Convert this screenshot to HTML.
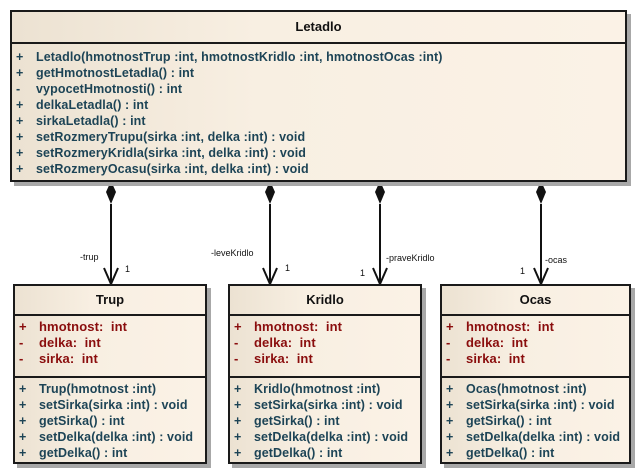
<!DOCTYPE html>
<html><head><meta charset="utf-8"><style>
body{margin:0;width:641px;height:474px;background:#fff;position:relative;overflow:hidden;font-family:"Liberation Sans",sans-serif;}
.box{position:absolute;border:2px solid #1a1a1a;box-sizing:border-box;background:linear-gradient(90deg,#ece2d2,#f8efe2 40%,#fbf2e6);box-shadow:4px 4px 0 #a8a8a8;}
.hdr{position:absolute;left:0;right:0;top:0;border-bottom:2px solid #1a1a1a;text-align:center;font-weight:bold;font-size:13px;color:#111;box-sizing:border-box;}
.sec{position:absolute;left:0;right:0;box-sizing:border-box;}
.row{height:16px;line-height:16px;font-size:12.5px;font-weight:bold;color:#1d4456;white-space:nowrap;position:relative;letter-spacing:0.1px;}
.row .v{position:absolute;left:4px;}
.row .t{position:absolute;left:24px;}
.attr .row{color:#8a0d0d;font-weight:bold;font-size:13px;}
.lbl{position:absolute;font-size:9px;color:#111;}
</style></head><body>
<svg width="641" height="474" style="position:absolute;left:0;top:0">
<g stroke="#111" stroke-width="2" fill="none">
<line x1="111" y1="204" x2="111" y2="284"/><polyline points="104,268 111,284 118,268"/>
<line x1="270" y1="204" x2="270" y2="284"/><polyline points="263,268 270,284 277,268"/>
<line x1="380" y1="204" x2="380" y2="284"/><polyline points="373,268 380,284 387,268"/>
<line x1="541" y1="204" x2="541" y2="284"/><polyline points="534,268 541,284 548,268"/>
</g>
<g fill="#111">
<polygon points="111,181 116,192 111,204 106,192"/>
<polygon points="270,181 275,192 270,204 265,192"/>
<polygon points="380,181 385,192 380,204 375,192"/>
<polygon points="541,181 546,192 541,204 536,192"/>
</g>
</svg>
<div class="lbl" style="left:80px;top:252px">-trup</div>
<div class="lbl" style="left:125px;top:264px">1</div>
<div class="lbl" style="left:211px;top:248px">-leveKridlo</div>
<div class="lbl" style="left:285px;top:263px">1</div>
<div class="lbl" style="left:360px;top:268px">1</div>
<div class="lbl" style="left:386px;top:253px">-praveKridlo</div>
<div class="lbl" style="left:520px;top:266px">1</div>
<div class="lbl" style="left:545px;top:255px">-ocas</div>

<div class="box" style="left:10px;top:10px;width:617px;height:172px">
<div class="hdr" style="height:32px;line-height:30px">Letadlo</div>
<div class="sec" style="top:37px">
<div class="row"><span class="v">+</span><span class="t">Letadlo(hmotnostTrup :int, hmotnostKridlo :int, hmotnostOcas :int)</span></div>
<div class="row"><span class="v">+</span><span class="t">getHmotnostLetadla() : int</span></div>
<div class="row"><span class="v">-</span><span class="t">vypocetHmotnosti() : int</span></div>
<div class="row"><span class="v">+</span><span class="t">delkaLetadla() : int</span></div>
<div class="row"><span class="v">+</span><span class="t">sirkaLetadla() : int</span></div>
<div class="row"><span class="v">+</span><span class="t">setRozmeryTrupu(sirka :int, delka :int) : void</span></div>
<div class="row"><span class="v">+</span><span class="t">setRozmeryKridla(sirka :int, delka :int) : void</span></div>
<div class="row"><span class="v">+</span><span class="t">setRozmeryOcasu(sirka :int, delka :int) : void</span></div>
</div></div>

<div class="box" style="left:13px;top:284px;width:194px;height:180px">
<div class="hdr" style="height:30px;line-height:28px">Trup</div>
<div class="sec attr" style="top:33px;height:59px;border-bottom:2px solid #1a1a1a">
<div class="row"><span class="v">+</span><span class="t">hmotnost:&nbsp; int</span></div>
<div class="row"><span class="v">-</span><span class="t">delka:&nbsp; int</span></div>
<div class="row"><span class="v">-</span><span class="t">sirka:&nbsp; int</span></div>
</div>
<div class="sec" style="top:95px">
<div class="row"><span class="v">+</span><span class="t">Trup(hmotnost :int)</span></div>
<div class="row"><span class="v">+</span><span class="t">setSirka(sirka :int) : void</span></div>
<div class="row"><span class="v">+</span><span class="t">getSirka() : int</span></div>
<div class="row"><span class="v">+</span><span class="t">setDelka(delka :int) : void</span></div>
<div class="row"><span class="v">+</span><span class="t">getDelka() : int</span></div>
</div></div>

<div class="box" style="left:228px;top:284px;width:194px;height:180px">
<div class="hdr" style="height:30px;line-height:28px">Kridlo</div>
<div class="sec attr" style="top:33px;height:59px;border-bottom:2px solid #1a1a1a">
<div class="row"><span class="v">+</span><span class="t">hmotnost:&nbsp; int</span></div>
<div class="row"><span class="v">-</span><span class="t">delka:&nbsp; int</span></div>
<div class="row"><span class="v">-</span><span class="t">sirka:&nbsp; int</span></div>
</div>
<div class="sec" style="top:95px">
<div class="row"><span class="v">+</span><span class="t">Kridlo(hmotnost :int)</span></div>
<div class="row"><span class="v">+</span><span class="t">setSirka(sirka :int) : void</span></div>
<div class="row"><span class="v">+</span><span class="t">getSirka() : int</span></div>
<div class="row"><span class="v">+</span><span class="t">setDelka(delka :int) : void</span></div>
<div class="row"><span class="v">+</span><span class="t">getDelka() : int</span></div>
</div></div>

<div class="box" style="left:440px;top:284px;width:191px;height:180px">
<div class="hdr" style="height:30px;line-height:28px">Ocas</div>
<div class="sec attr" style="top:33px;height:59px;border-bottom:2px solid #1a1a1a">
<div class="row"><span class="v">+</span><span class="t">hmotnost:&nbsp; int</span></div>
<div class="row"><span class="v">-</span><span class="t">delka:&nbsp; int</span></div>
<div class="row"><span class="v">-</span><span class="t">sirka:&nbsp; int</span></div>
</div>
<div class="sec" style="top:95px">
<div class="row"><span class="v">+</span><span class="t">Ocas(hmotnost :int)</span></div>
<div class="row"><span class="v">+</span><span class="t">setSirka(sirka :int) : void</span></div>
<div class="row"><span class="v">+</span><span class="t">getSirka() : int</span></div>
<div class="row"><span class="v">+</span><span class="t">setDelka(delka :int) : void</span></div>
<div class="row"><span class="v">+</span><span class="t">getDelka() : int</span></div>
</div></div>
</body></html>
